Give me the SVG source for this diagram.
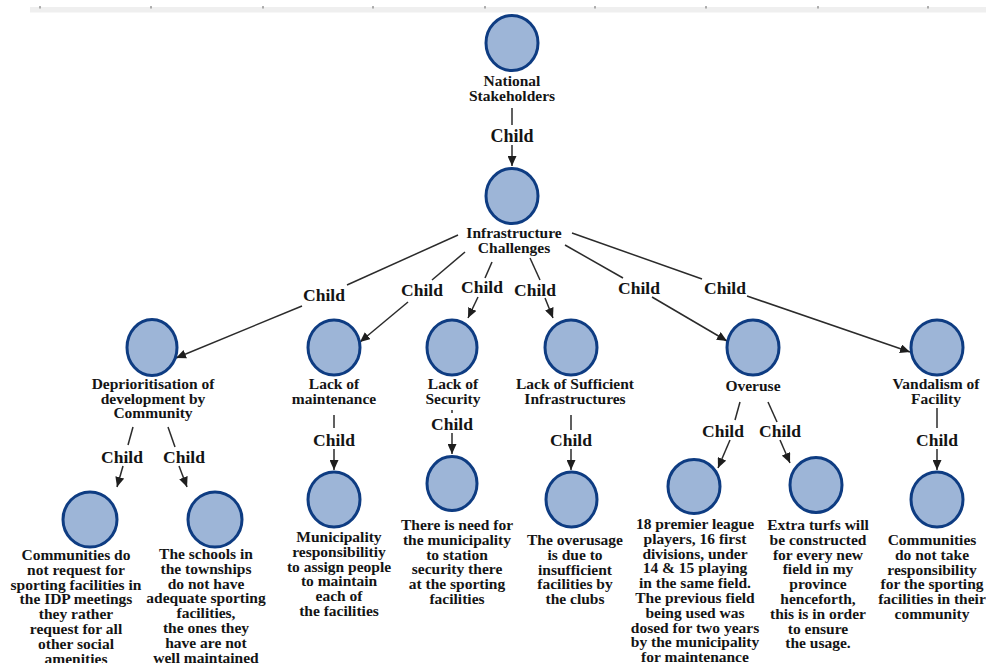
<svg xmlns="http://www.w3.org/2000/svg" width="986" height="663" viewBox="0 0 986 663">
<defs>
<style>
.n{fill:#9db5d7;stroke:#0e3c82;stroke-width:3}
text{font-family:"Liberation Serif","Times New Roman",serif;font-weight:bold;fill:#141414;text-anchor:middle}
.t{font-size:15.5px}
.c{font-size:17.5px}
.e{stroke:#2b2b2b;stroke-width:1.5;fill:none}
.a{marker-end:url(#arr)}
.tk{stroke:#666;stroke-width:1}
</style>
<marker id="arr" markerUnits="userSpaceOnUse" markerWidth="11" markerHeight="9" refX="10" refY="4.5" orient="auto">
<path d="M0,0 L10,4.5 L0,9 Z" fill="#1e1e1e"/>
</marker>
</defs>
<rect width="986" height="663" fill="#ffffff"/>
<g id="ruler">
<rect x="30" y="7" width="956" height="5.5" fill="#efefef"/>
<path class="tk" d="M40,6v2.5M151,6v2.5M263,6v2.5M373,6v2.5M485,6v2.5M595,6v2.5M706,6v2.5M818,6v2.5M928,6v2.5"/>
</g>
<g id="connectors">
<line class="e" x1="512" y1="108" x2="512" y2="125"/>
<text class="c" style="font-size:18px" x="512" y="142">Child</text>
<line class="e a" x1="512" y1="145" x2="512" y2="166"/>
<line class="e" x1="458" y1="235" x2="347" y2="285"/>
<text class="c" x="324" y="301">Child</text>
<line class="e a" x1="302" y1="306" x2="176" y2="358"/>
<line class="e" x1="465" y1="252" x2="432" y2="280"/>
<text class="c" x="422" y="296">Child</text>
<line class="e a" x1="408" y1="302" x2="360" y2="342"/>
<line class="e" x1="492" y1="262" x2="485" y2="278"/>
<text class="c" x="482" y="293">Child</text>
<line class="e a" x1="478" y1="297" x2="468" y2="318"/>
<line class="e" x1="530" y1="258" x2="540" y2="280"/>
<text class="c" x="535" y="296">Child</text>
<line class="e a" x1="545" y1="298" x2="553" y2="318"/>
<line class="e" x1="565" y1="245" x2="623" y2="278"/>
<text class="c" x="639" y="294">Child</text>
<line class="e a" x1="652" y1="297" x2="727" y2="341"/>
<line class="e" x1="572" y1="233" x2="702" y2="279"/>
<text class="c" x="725" y="294">Child</text>
<line class="e a" x1="747" y1="296" x2="910" y2="352"/>
<line class="e" x1="133" y1="427" x2="128" y2="445"/>
<text class="c" x="122" y="463">Child</text>
<line class="e a" x1="123" y1="466" x2="117" y2="487"/>
<line class="e" x1="168" y1="427" x2="175" y2="447"/>
<text class="c" x="184" y="463">Child</text>
<line class="e a" x1="179" y1="466" x2="187" y2="487"/>
<line class="e" x1="334" y1="415" x2="334" y2="428"/>
<text class="c" x="334" y="446">Child</text>
<line class="e a" x1="334" y1="449" x2="334" y2="470"/>
<line class="e" x1="452" y1="410" x2="452" y2="413"/>
<text class="c" x="452" y="430">Child</text>
<line class="e a" x1="452" y1="433" x2="452" y2="454"/>
<line class="e" x1="571" y1="415" x2="571" y2="430"/>
<text class="c" x="571" y="446">Child</text>
<line class="e a" x1="571" y1="449" x2="571" y2="470"/>
<line class="e" x1="740" y1="402" x2="735" y2="420"/>
<text class="c" x="723" y="437">Child</text>
<line class="e a" x1="730" y1="440" x2="718" y2="468"/>
<line class="e" x1="768" y1="402" x2="777" y2="422"/>
<text class="c" x="780" y="437">Child</text>
<line class="e a" x1="780" y1="440" x2="790" y2="463"/>
<line class="e" x1="937" y1="408" x2="937" y2="428"/>
<text class="c" x="937" y="446">Child</text>
<line class="e a" x1="937" y1="449" x2="937" y2="470"/>
</g>
<g id="national-stakeholders">
<ellipse class="n" cx="512" cy="43" rx="26" ry="27.5"/>
<text class="t" x="512" y="86">National</text>
<text class="t" x="512" y="101">Stakeholders</text>
</g>
<g id="infrastructure-challenges">
<ellipse class="n" cx="512" cy="196" rx="26" ry="27.5"/>
<text class="t" x="514" y="238">Infrastructure</text>
<text class="t" x="514" y="252.5">Challenges</text>
</g>
<g id="deprioritisation">
<ellipse class="n" cx="152" cy="347.5" rx="25" ry="28"/>
<text class="t" x="153" y="389">Deprioritisation of</text>
<text class="t" x="153" y="403.5">development by</text>
<text class="t" x="153" y="418">Community</text>
</g>
<g id="lack-of-maintenance">
<ellipse class="n" cx="334" cy="347.5" rx="26" ry="27.5"/>
<text class="t" x="334" y="389">Lack of</text>
<text class="t" x="334" y="404">maintenance</text>
</g>
<g id="lack-of-security">
<ellipse class="n" cx="452" cy="347.5" rx="25" ry="27.5"/>
<text class="t" x="453" y="389">Lack of</text>
<text class="t" x="453" y="403.5">Security</text>
</g>
<g id="lack-of-sufficient">
<ellipse class="n" cx="571" cy="347.5" rx="26" ry="27.5"/>
<text class="t" x="575" y="389">Lack of Sufficient</text>
<text class="t" x="575" y="404">Infrastructures</text>
</g>
<g id="overuse">
<ellipse class="n" cx="753" cy="347.5" rx="26" ry="27.5"/>
<text class="t" x="753" y="391">Overuse</text>
</g>
<g id="vandalism">
<ellipse class="n" cx="937" cy="347.5" rx="26" ry="27.5"/>
<text class="t" x="936" y="389">Vandalism of</text>
<text class="t" x="936" y="404">Facility</text>
</g>
<g id="communities-do-not-request">
<ellipse class="n" cx="90" cy="519.5" rx="27" ry="27.5"/>
<text class="t" x="76"><tspan x="76" y="560">Communities do</tspan><tspan x="76" y="574.8">not request for</tspan><tspan x="76" y="589.6">sporting facilities in</tspan><tspan x="76" y="604.4">the IDP meetings</tspan><tspan x="76" y="619.2">they rather</tspan><tspan x="76" y="634">request for all</tspan><tspan x="76" y="648.8">other social</tspan><tspan x="76" y="663.6">amenities</tspan></text>
</g>
<g id="schools-in-townships">
<ellipse class="n" cx="215" cy="519.5" rx="27" ry="27.5"/>
<text class="t" x="206"><tspan x="206" y="559">The schools in</tspan><tspan x="206" y="573.8">the townships</tspan><tspan x="206" y="588.6">do not have</tspan><tspan x="206" y="603.4">adequate sporting</tspan><tspan x="206" y="618.2">facilities,</tspan><tspan x="206" y="633">the ones they</tspan><tspan x="206" y="647.8">have are not</tspan><tspan x="206" y="662.6">well maintained</tspan></text>
</g>
<g id="municipality-responsibility">
<ellipse class="n" cx="334" cy="499.5" rx="26" ry="27.5"/>
<text class="t" x="339"><tspan x="339" y="542">Municipality</tspan><tspan x="339" y="556.8">responsibilitiy</tspan><tspan x="339" y="571.6">to assign people</tspan><tspan x="339" y="586.4">to maintain</tspan><tspan x="339" y="601.2">each of</tspan><tspan x="339" y="616">the facilities</tspan></text>
</g>
<g id="station-security">
<ellipse class="n" cx="452" cy="483.5" rx="25" ry="27"/>
<text class="t" x="457"><tspan x="457" y="530">There is need for</tspan><tspan x="457" y="544.8">the municipality</tspan><tspan x="457" y="559.6">to station</tspan><tspan x="457" y="574.4">security there</tspan><tspan x="457" y="589.2">at the sporting</tspan><tspan x="457" y="604">facilities</tspan></text>
</g>
<g id="overusage">
<ellipse class="n" cx="571.5" cy="499.5" rx="25.5" ry="27.5"/>
<text class="t" x="575"><tspan x="575" y="545">The overusage</tspan><tspan x="575" y="559.8">is due to</tspan><tspan x="575" y="574.6">insufficient</tspan><tspan x="575" y="589.4">facilities by</tspan><tspan x="575" y="604.2">the clubs</tspan></text>
</g>
<g id="premier-league">
<ellipse class="n" cx="694" cy="486.5" rx="26" ry="27"/>
<text class="t" x="695"><tspan x="695" y="529">18 premier league</tspan><tspan x="695" y="543.8">players, 16 first</tspan><tspan x="695" y="558.6">divisions, under</tspan><tspan x="695" y="573.4">14 &amp; 15 playing</tspan><tspan x="695" y="588.2">in the same field.</tspan><tspan x="695" y="603">The previous field</tspan><tspan x="695" y="617.8">being used was</tspan><tspan x="695" y="632.6">dosed for two years</tspan><tspan x="695" y="647.4">by the municipality</tspan><tspan x="695" y="662.2">for maintenance</tspan></text>
</g>
<g id="extra-turfs">
<ellipse class="n" cx="816" cy="485" rx="26" ry="27.5"/>
<text class="t" x="818"><tspan x="818" y="530">Extra turfs will</tspan><tspan x="818" y="544.8">be constructed</tspan><tspan x="818" y="559.6">for every new</tspan><tspan x="818" y="574.4">field in my</tspan><tspan x="818" y="589.2">province</tspan><tspan x="818" y="604">henceforth,</tspan><tspan x="818" y="618.8">this is in order</tspan><tspan x="818" y="633.6">to ensure</tspan><tspan x="818" y="648.4">the usage.</tspan></text>
</g>
<g id="communities-no-responsibility">
<ellipse class="n" cx="937" cy="499.5" rx="26" ry="27.5"/>
<text class="t" x="932"><tspan x="932" y="545">Communities</tspan><tspan x="932" y="559.8">do not take</tspan><tspan x="932" y="574.6">responsibility</tspan><tspan x="932" y="589.4">for the sporting</tspan><tspan x="932" y="604.2">facilities in their</tspan><tspan x="932" y="619">community</tspan></text>
</g>
</svg>
